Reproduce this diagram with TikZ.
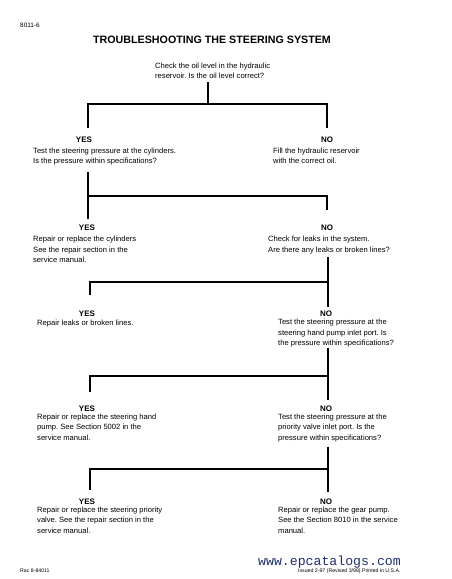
\documentclass[tikz,border=0pt]{standalone}
\usepackage{fontspec}
\setmainfont{Liberation Sans}
\newfontfamily\wmfont{Liberation Mono}
\definecolor{wmblue}{HTML}{1F2E6E}
\frenchspacing
\tikzset{
  wire/.style={line width=1.7pt, line cap=butt},
  body/.style={anchor=north west, inner sep=0pt, align=left, font=\fontsize{7.6}{10.6}\selectfont},
  ans/.style={anchor=base, inner sep=0pt, font=\fontsize{8}{9}\selectfont\bfseries},
  small/.style={anchor=base west, inner sep=0pt, font=\fontsize{5.2}{6}\selectfont}
}
\begin{document}
\begin{tikzpicture}[x=1pt,y=-1pt]
\useasboundingbox (0,0) rectangle (452,579);
% header
\node[anchor=base west, inner sep=0pt, font=\fontsize{6.4}{7}\selectfont] (page) at (20,27) {8011-6};
\node[anchor=base, inner sep=0pt, font=\fontsize{10.7}{12}\selectfont\bfseries] (title) at (212,43.8) {TROUBLESHOOTING THE STEERING SYSTEM};
% question 1
\node[body] (q1) at (155,62.5) {Check the oil level in the hydraulic\\reservoir. Is the oil level correct?};
\node[ans] (y1) at (84,142) {YES};
\node[ans] (n1) at (327,142) {NO};
\node[body] (ty1) at (33,147.5) {Test the steering pressure at the cylinders.\\Is the pressure within specifications?};
\node[body] (tn1) at (273,147.5) {Fill the hydraulic reservoir\\with the correct oil.};
\coordinate (q1b) at (208,82);
\coordinate (j1) at (208,104);
\coordinate (y1t) at (88,128);
\coordinate (n1t) at (327,128);
\draw[wire] (q1b) -- (j1);
\draw[wire] (y1t) |- (j1) -| (n1t);
% question 2
\node[ans] (y2) at (87,230) {YES};
\node[ans] (n2) at (327,230) {NO};
\node[body] (ty2) at (33,236) {Repair or replace the cylinders\\See the repair section in the\\service manual.};
\node[body] (tn2) at (268,236) {Check for leaks in the system.\\Are there any leaks or broken lines?};
\coordinate (ty1b) at (88,172);
\coordinate (j2) at (88,196);
\coordinate (y2t) at (88,219);
\coordinate (n2t) at (327,210);
\draw[wire] (ty1b) -- (y2t);
\draw[wire] (j2) -| (n2t);
% question 3
\node[ans] (y3) at (87,316) {YES};
\node[ans] (n3) at (326,316) {NO};
\node[body] (ty3) at (37,319.5) {Repair leaks or broken lines.};
\node[body] (tn3) at (278,319) {Test the steering pressure at the\\steering hand pump inlet port. Is\\the pressure within specifications?};
\coordinate (tn2b) at (328,257);
\coordinate (j3) at (328,282);
\coordinate (n3t) at (328,307);
\coordinate (y3t) at (90,295);
\draw[wire] (tn2b) -- (n3t);
\draw[wire] (j3) -| (y3t);
% question 4
\node[ans] (y4) at (87,411) {YES};
\node[ans] (n4) at (326,411) {NO};
\node[body] (ty4) at (37,413.5) {Repair or replace the steering hand\\pump. See Section 5002 in the\\service manual.};
\node[body] (tn4) at (278,413.5) {Test the steering pressure at the\\priority valve inlet port. Is the\\pressure within specifications?};
\coordinate (tn3b) at (328,348);
\coordinate (j4) at (328,376);
\coordinate (n4t) at (328,400);
\coordinate (y4t) at (90,392);
\draw[wire] (tn3b) -- (n4t);
\draw[wire] (j4) -| (y4t);
% question 5
\node[ans] (y5) at (87,504) {YES};
\node[ans] (n5) at (326,504) {NO};
\node[body] (ty5) at (37,506.5) {Repair or replace the steering priority\\valve. See the repair section in the\\service manual.};
\node[body] (tn5) at (278,506.5) {Repair or replace the gear pump.\\See the Section 8010 in the service\\manual.};
\coordinate (tn4b) at (328,447);
\coordinate (j5) at (328,469);
\coordinate (n5t) at (328,492);
\coordinate (y5t) at (90,490);
\draw[wire] (tn4b) -- (n5t);
\draw[wire] (j5) -| (y5t);
% footer
\node[small] (rac) at (20,572) {Rac 8-84011};
\node[anchor=base, inner sep=0pt, font=\wmfont\fontsize{13.2}{14}\selectfont, text=wmblue] (wm) at (329.5,565.5) {www.epcatalogs.com};
\node[small] (issued) at (298,572) {Issued 2-97 (Revised 3/98) Printed in U.S.A.};
\end{tikzpicture}
\end{document}
